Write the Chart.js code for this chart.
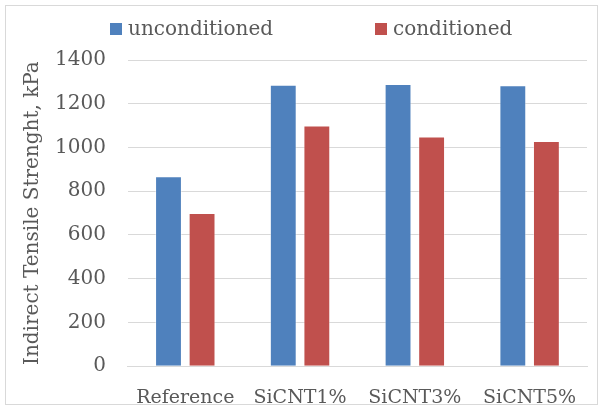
<!DOCTYPE html>
<html>
<head>
<meta charset="utf-8">
<script src="https://cdn.jsdelivr.net/npm/chart.js@4"></script>
<style>
  html, body { margin: 0; padding: 0; background: #fff; }
  #wrap { position: relative; width: 604px; height: 410px; }
  #itsChart { display: block; }
  #frame { position: absolute; left: 5px; top: 5px; width: 591px; height: 398px; border: 1px solid #d9d9d9; pointer-events: none; }
  #legend { position: absolute; top: 16px; left: 0; width: 604px; height: 24px; font: 20px "DejaVu Serif"; color: #595959; }
  #legend span.item { position: absolute; top: 0; line-height: 24px; white-space: nowrap; }
  #legend span.box { display: inline-block; width: 12px; height: 12px; margin-right: 6px; vertical-align: 0px; }
</style>
</head>
<body>
<div id="wrap">
  <canvas id="itsChart" width="604" height="410"></canvas>
  <div id="legend"></div>
  <div id="frame"></div>
</div>
<script>
const categories = ['Reference', 'SiCNT1%', 'SiCNT3%', 'SiCNT5%'];
const seriesNames = ['unconditioned', 'conditioned'];
const unconditioned = [868, 1287, 1290, 1285];
const conditioned = [700, 1100, 1050, 1030];
const seriesColors = ['#4f81bd', '#c0504d'];
const yTicks = [0, 200, 400, 600, 800, 1000, 1200, 1400];

const textColor = '#595959';
const gridColor = '#d9d9d9';

// legend drawn in html so the items can sit far apart like the original
const legendX = [110, 375];
const legendEl = document.getElementById('legend');
seriesNames.forEach((name, i) => {
  const item = document.createElement('span');
  item.className = 'item';
  item.style.left = legendX[i] + 'px';
  item.innerHTML = '<span class="box" style="background:' + seriesColors[i] + '"></span>' + name;
  legendEl.appendChild(item);
});

const ctx = document.getElementById('itsChart').getContext('2d');
const itsChart = new Chart(ctx, {
  type: 'bar',
  data: {
    labels: categories,
    datasets: [
      {
        label: seriesNames[0],
        data: unconditioned,
        backgroundColor: seriesColors[0],
        borderColor: 'rgba(255,255,255,0.4)',
        borderWidth: 1,
        barPercentage: 0.8,
        categoryPercentage: 0.585,
      },
      {
        label: seriesNames[1],
        data: conditioned,
        backgroundColor: seriesColors[1],
        borderColor: 'rgba(255,255,255,0.4)',
        borderWidth: 1,
        barPercentage: 0.8,
        categoryPercentage: 0.585,
      }
    ]
  },
  options: {
    responsive: false,
    animation: false,
    layout: {
      // negative bottom: tick padding gets counted twice in the axis size
      padding: { top: 60, left: 21, right: 17, bottom: -19 }
    },
    scales: {
      x: {
        grid: { display: false, drawTicks: false },
        border: { color: gridColor, width: 1 },
        ticks: {
          color: textColor,
          padding: 20,
          maxRotation: 0,
          font: { family: 'DejaVu Serif', size: 19 }
        }
      },
      y: {
        min: 0,
        max: 1400,
        afterBuildTicks: axis => { axis.ticks = yTicks.map(v => ({ value: v })); },
        grid: { color: gridColor, lineWidth: 1, drawTicks: false },
        border: { display: false },
        ticks: {
          color: textColor,
          padding: 22,
          callback: value => String(value),
          font: { family: 'DejaVu Serif', size: 20 }
        },
        title: {
          display: true,
          text: 'Indirect Tensile Strenght, kPa',
          color: textColor,
          padding: { top: 0, bottom: -12 },
          font: { family: 'DejaVu Serif', size: 20, weight: 'normal' }
        }
      }
    },
    plugins: {
      legend: { display: false },
      tooltip: { enabled: false }
    }
  }
});
</script>
</body>
</html>
